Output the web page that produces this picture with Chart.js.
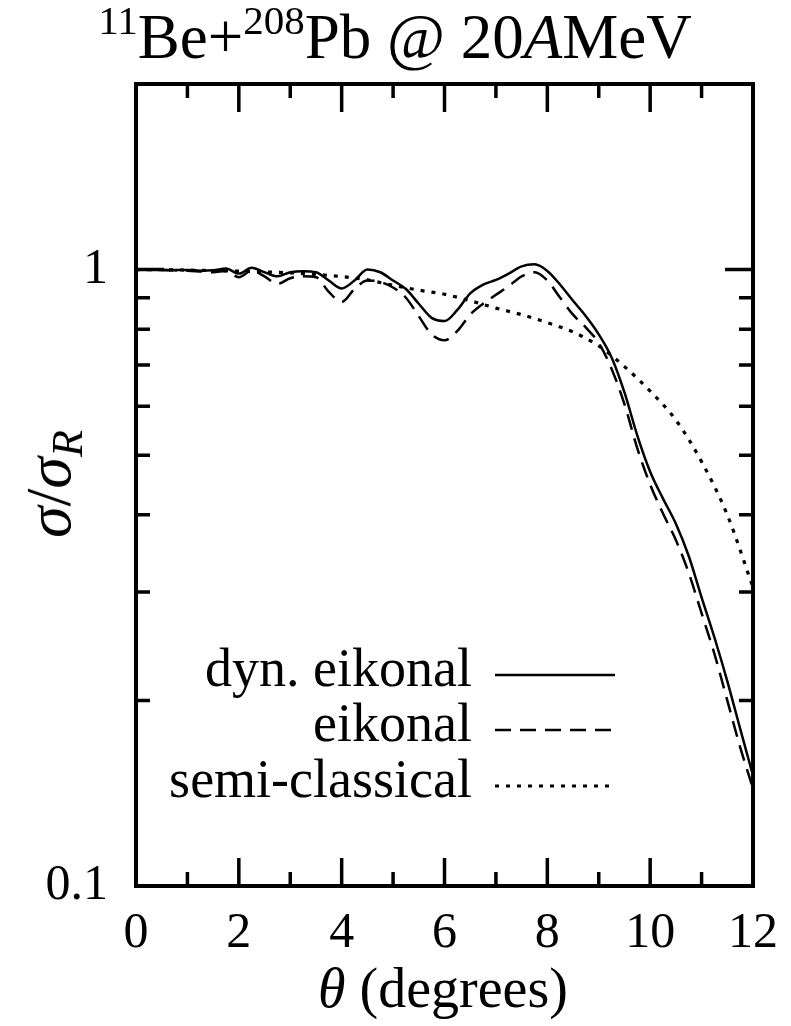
<!DOCTYPE html>
<html><head><meta charset="utf-8">
<script src="https://cdn.jsdelivr.net/npm/chart.js@4.4.0/dist/chart.umd.min.js"></script>
<style>
html,body{margin:0;padding:0;background:#fff;}
#wrap{position:relative;width:791px;height:1026px;overflow:hidden;}
canvas{position:absolute;left:0;top:0;}
.lbl{position:absolute;font-family:"Liberation Serif",serif;color:#000;white-space:nowrap;line-height:1;}
#title{left:395px;top:6px;transform:translateX(-50%);font-size:63px;}
#title .sp{font-size:41px;position:relative;top:-24px;}
#ylab{left:49px;top:484px;transform:translate(-50%,-50%) rotate(-90deg);font-size:64px;}
#ylab .sb{font-size:44px;position:relative;top:12px;}
#xlab{left:443px;top:960px;transform:translateX(-50%);font-size:56px;}
</style></head>
<body><div id="wrap"><canvas id="c" width="791" height="1026"></canvas>
<div class="lbl" id="title"><span class="sp">11</span>Be+<span class="sp">208</span>Pb @ 20<i>A</i>MeV</div>
<div class="lbl" id="ylab"><i>σ</i>/<i>σ</i><i class="sb">R</i></div>
<div class="lbl" id="xlab"><i>θ</i> (degrees)</div>
</div>
<script>
// ---- data ----
const thetaQ = [0,0.25,0.5,0.75,1.0,1.25,1.5,1.75,2.0,2.25,2.5,2.75,3.0,3.25,3.5,3.75,4.0,4.25,4.5,4.75,5.0,5.25,5.5,5.75,6.0,6.25,6.5,6.75,7.0,7.25,7.5,7.75,8.0,8.25,8.5,8.75,9.0,9.25,9.5,9.75,10.0,10.25,10.5,10.75,11.0,11.25,11.5,11.75,12.0];
const dynEikonal = [1.0,1.0,0.999,0.998,0.998,0.996,0.997,1.004,0.985,1.007,0.99,0.975,0.99,0.994,0.99,0.96,0.932,0.96,1.0,0.99,0.96,0.93,0.88,0.835,0.825,0.86,0.915,0.945,0.962,0.985,1.012,1.02,0.995,0.945,0.89,0.84,0.785,0.72,0.632,0.538,0.47,0.425,0.387,0.343,0.294,0.253,0.215,0.18,0.151];
const eikonal = [1.0,0.999,0.998,0.997,0.996,0.993,0.99,0.995,0.972,0.995,0.975,0.948,0.968,0.975,0.972,0.92,0.886,0.93,0.96,0.955,0.935,0.9,0.84,0.785,0.768,0.795,0.845,0.88,0.91,0.94,0.975,0.99,0.96,0.9,0.845,0.805,0.76,0.69,0.605,0.513,0.448,0.402,0.364,0.322,0.277,0.238,0.2,0.168,0.144];
const thetaSC = [0,0.5,1.0,1.5,2.0,2.5,3.0,3.5,4.0,4.5,5.0,5.5,6.0,6.5,7.0,7.5,8.0,8.5,9.0,9.5,10.0,10.5,11.0,11.5,12.0];
const semiClassical = [1.0,0.9995,0.998,0.996,0.994,0.991,0.988,0.982,0.974,0.962,0.943,0.926,0.912,0.89,0.866,0.845,0.82,0.792,0.752,0.696,0.635,0.57,0.488,0.4,0.305];
const seriesLabels = ['dyn. eikonal','eikonal','semi-classical'];
const xMajorTicks = [0,2,4,6,8,10,12];
const xTickLabels = ['0','2','4','6','8','10','12'];
const xMinorTicks = [1,3,5,7,9,11];
const yMajorTicks = [0.1,1];
const yTickLabels = ['0.1','1'];
const yMinorTicks = [0.2,0.3,0.4,0.5,0.6,0.7,0.8,0.9,2];

const FONT = '"Liberation Serif", serif';
const styles = [
  {dash:[], width:2.5},
  {dash:[16,9], width:2.5},
  {dash:[4,7], width:3.2}
];

const framePlugin = {
  id:'frame',
  afterDatasetsDraw(chart){
    const {ctx, chartArea:a, scales:{x,y}} = chart;
    ctx.save();
    ctx.strokeStyle='#000'; ctx.setLineDash([]); ctx.lineWidth=3.5; ctx.lineCap='butt';
    ctx.beginPath();
    const xt=(vals,len)=>vals.forEach(v=>{const p=x.getPixelForValue(v);ctx.moveTo(p,a.bottom);ctx.lineTo(p,a.bottom-len);ctx.moveTo(p,a.top);ctx.lineTo(p,a.top+len);});
    const yt=(vals,len)=>vals.forEach(v=>{const p=y.getPixelForValue(v);ctx.moveTo(a.left,p);ctx.lineTo(a.left+len,p);ctx.moveTo(a.right,p);ctx.lineTo(a.right-len,p);});
    xt(xMajorTicks,28); xt(xMinorTicks,14);
    yt(yMajorTicks,28); yt(yMinorTicks,14);
    ctx.stroke();
    ctx.lineWidth=4;
    ctx.strokeRect(a.left,a.top,a.right-a.left,a.bottom-a.top);
    ctx.restore();
  }
};

const legendPlugin = {
  id:'customLegend',
  afterDraw(chart, args, opts){
    const ctx=chart.ctx;
    ctx.save();
    ctx.fillStyle='#000'; ctx.strokeStyle='#000';
    ctx.font='54px '+FONT; ctx.textAlign='right'; ctx.textBaseline='alphabetic';
    chart.data.datasets.forEach((ds,i)=>{
      const ly=opts.rows[i];
      ctx.fillText(ds.label, opts.textRight, ly+11);
      ctx.beginPath(); ctx.setLineDash(ds.borderDash||[]); ctx.lineWidth=ds.borderWidth;
      ctx.moveTo(opts.lineStart, ly); ctx.lineTo(opts.lineEnd, ly); ctx.stroke();
    });
    ctx.restore();
  }
};

const mk=(xs,ys)=>xs.map((t,i)=>({x:t,y:ys[i]}));
new Chart(document.getElementById('c'),{
  type:'line',
  data:{datasets:[
    {label:seriesLabels[0],data:mk(thetaQ,dynEikonal),borderColor:'#000',borderWidth:styles[0].width,borderDash:styles[0].dash,pointRadius:0,fill:false,cubicInterpolationMode:'monotone'},
    {label:seriesLabels[1],data:mk(thetaQ,eikonal),borderColor:'#000',borderWidth:styles[1].width,borderDash:styles[1].dash,pointRadius:0,fill:false,cubicInterpolationMode:'monotone'},
    {label:seriesLabels[2],data:mk(thetaSC,semiClassical),borderColor:'#000',borderWidth:styles[2].width,borderDash:styles[2].dash,pointRadius:0,fill:false,cubicInterpolationMode:'monotone'}
  ]},
  options:{
    responsive:false, animation:false, devicePixelRatio:1,
    layout:{padding:{top:84,right:38,left:0,bottom:0}},
    plugins:{legend:{display:false},tooltip:{enabled:false},
      customLegend:{rows:[675,730,786],textRight:472,lineStart:495,lineEnd:615}},
    scales:{
      x:{type:'linear',min:0,max:12,
        grid:{display:false,drawTicks:false},border:{display:false},
        afterBuildTicks:s=>{s.ticks=xMajorTicks.map(v=>({value:v}));},
        afterFit:s=>{s.height=140;s.paddingLeft=0;s.paddingRight=0;},
        ticks:{autoSkip:false,maxRotation:0,padding:18,color:'#000',font:{family:FONT,size:50},
          callback:(v,i)=>xTickLabels[i]}},
      y:{type:'logarithmic',min:0.1,max:2,
        grid:{display:false,drawTicks:false},border:{display:false},
        afterBuildTicks:s=>{s.ticks=yMajorTicks.map(v=>({value:v}));},
        afterFit:s=>{s.width=136;s.paddingTop=0;s.paddingBottom=0;},
        ticks:{autoSkip:false,padding:28,color:'#000',font:{family:FONT,size:50},
          callback:(v,i)=>yTickLabels[i]}}
    }
  },
  plugins:[framePlugin,legendPlugin]
});
</script></body></html>
